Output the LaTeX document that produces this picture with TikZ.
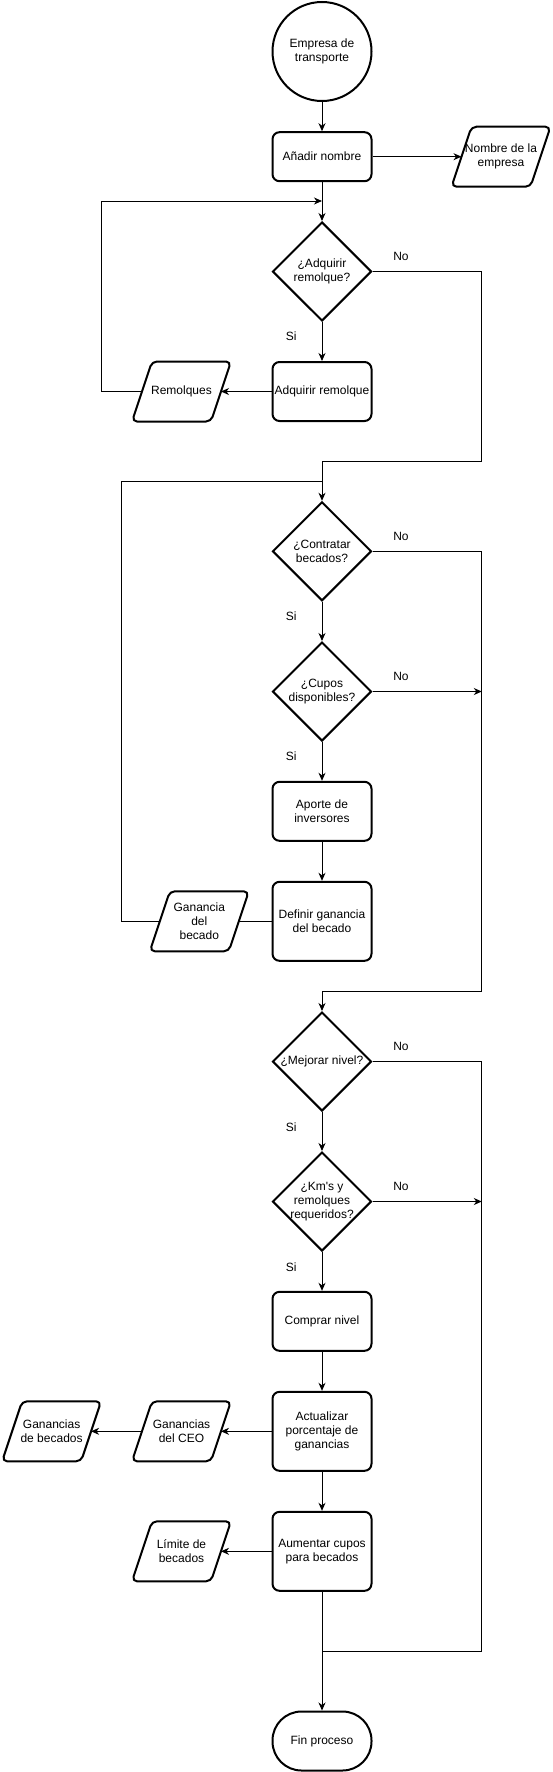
\documentclass[tikz,border=0pt]{standalone}
\usepackage{fontspec}
\setmainfont{Liberation Sans}
\usetikzlibrary{shapes.geometric,arrows.meta}
\newcommand{\iodraw}[1]{\draw[iobord] (#1.south west) -- ([xshift=20pt]#1.north west) -- (#1.north east) -- ([xshift=-20pt]#1.south east) -- cycle;}
\begin{document}
\begin{tikzpicture}[x=1pt,y=-1pt,
  every node/.style={font=\fontsize{12}{14}\selectfont, align=center},
  proc/.style={draw, line width=2pt, rectangle, rounded corners=7pt, minimum width=99pt, inner sep=0pt},
  dec/.style={draw, line width=2pt, diamond, minimum width=99pt, minimum height=99pt, inner sep=0pt},
  io/.style={rectangle, minimum width=99pt, minimum height=60pt, inner sep=0pt, outer sep=0pt},
  iobord/.style={line width=2pt, rounded corners=5pt, line join=round},
  term/.style={draw, line width=2pt, rectangle, rounded corners=29pt, minimum width=99pt, minimum height=59pt, inner sep=0pt},
  conn/.style={line width=1pt},
  arr/.style={conn, -{Stealth[length=8pt,width=7pt,inset=2.5pt]}},
  lbl/.style={inner sep=0pt}
]
\useasboundingbox (0,0) rectangle (552,1772);

% nodes
\node[circle, draw, line width=2pt, minimum size=99pt, inner sep=0pt] (start) at (322,51.5) {Empresa de\\transporte};
\node[proc, minimum height=49pt] (anadir) at (322,156.7) {Añadir nombre};
\node[io] (nombre) at (501,156.7) {Nombre de la\\empresa};
\node[dec, label={center:{¿Adquirir\\remolque?}}] (d1) at (322,271.5) {};
\node[proc, minimum height=59pt] (adq) at (322,391.5) {Adquirir remolque};
\node[io] (rem) at (181.5,391.5) {Remolques};
\node[dec, label={center:{¿Contratar\\becados?}}] (d2) at (322,551.3) {};
\node[dec, label={center:{¿Cupos\\disponibles?}}] (d3) at (322,691.5) {};
\node[proc, minimum height=59pt] (aporte) at (322,811.3) {Aporte de\\inversores};
\node[proc, minimum height=79pt] (defin) at (322,921.3) {Definir ganancia\\del becado};
\node[io] (gan) at (199.3,921.3) {Ganancia\\del\\becado};
\node[dec, label={center:{¿Mejorar nivel?}}] (d4) at (322,1061.5) {};
\node[dec, label={center:{¿Km\textquotesingle s y\\remolques\\requeridos?}}] (d5) at (322,1201.5) {};
\node[proc, minimum height=59pt] (comprar) at (322,1321.3) {Comprar nivel};
\node[proc, minimum height=79pt] (actual) at (322,1431.3) {Actualizar\\porcentaje de\\ganancias};
\node[io] (ceo) at (181.5,1431.3) {Ganancias\\del CEO};
\node[io] (becs) at (51.6,1431.3) {Ganancias\\de becados};
\node[proc, minimum height=79pt] (aum) at (322,1551.3) {Aumentar cupos\\para becados};
\node[io] (lim) at (181.5,1551.3) {Límite de\\becados};
\node[term] (fin) at (322,1741) {Fin proceso};

% parallelogram outlines
\iodraw{nombre}
\iodraw{rem}
\iodraw{gan}
\iodraw{ceo}
\iodraw{becs}
\iodraw{lim}

% labels
\node[lbl] (no1) at (401,256.7) {No};
\node[lbl] (no2) at (401,536.7) {No};
\node[lbl] (no3) at (401,676.7) {No};
\node[lbl] (no4) at (401,1046.7) {No};
\node[lbl] (no5) at (401,1186.7) {No};
\node[lbl] (si1) at (291.2,336) {Si};
\node[lbl] (si2) at (291.2,616) {Si};
\node[lbl] (si3) at (291.2,756) {Si};
\node[lbl] (si4) at (291.2,1126.7) {Si};
\node[lbl] (si5) at (291.2,1266.7) {Si};

% helper coordinates
\coordinate (l1a) at (101.5,391.5);
\coordinate (l1b) at (101.5,201);
\coordinate (l1c) at (322,201);
\coordinate (r1a) at (481.8,271.5);
\coordinate (r1b) at (481.8,461.3);
\coordinate (r1c) at (322,461.3);
\coordinate (l2a) at (121.6,921.3);
\coordinate (l2b) at (121.6,481.3);
\coordinate (l2c) at (322,481.3);
\coordinate (r2a) at (481.8,551.3);
\coordinate (r2b) at (481.8,991);
\coordinate (r2c) at (322,991);
\coordinate (r3) at (481.8,691.5);
\coordinate (r4a) at (481.8,1061.5);
\coordinate (r4b) at (481.8,1651);
\coordinate (r4c) at (322,1651);
\coordinate (r5) at (481.8,1201.5);

% connectors
\draw[arr] (start) -- (anadir);
\draw[arr] (anadir.east) -- ([xshift=10pt]nombre.west);
\draw[arr] (anadir) -- (d1);
\draw[arr] ([xshift=10pt]rem.west) -- (l1a) -- (l1b) -- (l1c);
\draw[arr] (d1.east) -- (r1a) -- (r1b) -- (r1c) -- (d2.north);
\draw[arr] (d1) -- (adq);
\draw[arr] (adq.west) -- ([xshift=-10pt]rem.east);
\draw[conn] (defin.west) -- ([xshift=-10pt]gan.east);
\draw[conn] ([xshift=10pt]gan.west) -- (l2a) -- (l2b) -- (l2c);
\draw[arr] (d2.east) -- (r2a) -- (r2b) -- (r2c) -- (d4.north);
\draw[arr] (d2) -- (d3);
\draw[arr] (d3.east) -- (r3);
\draw[arr] (d3) -- (aporte);
\draw[arr] (aporte) -- (defin);
\draw[conn] (d4.east) -- (r4a) -- (r4b) -- (r4c);
\draw[arr] (d4) -- (d5);
\draw[arr] (d5.east) -- (r5);
\draw[arr] (d5) -- (comprar);
\draw[arr] (comprar) -- (actual);
\draw[arr] (actual.west) -- ([xshift=-10pt]ceo.east);
\draw[arr] ([xshift=10pt]ceo.west) -- ([xshift=-10pt]becs.east);
\draw[arr] (actual) -- (aum);
\draw[arr] (aum.west) -- ([xshift=-10pt]lim.east);
\draw[arr] (aum) -- (fin);
\end{tikzpicture}
\end{document}
